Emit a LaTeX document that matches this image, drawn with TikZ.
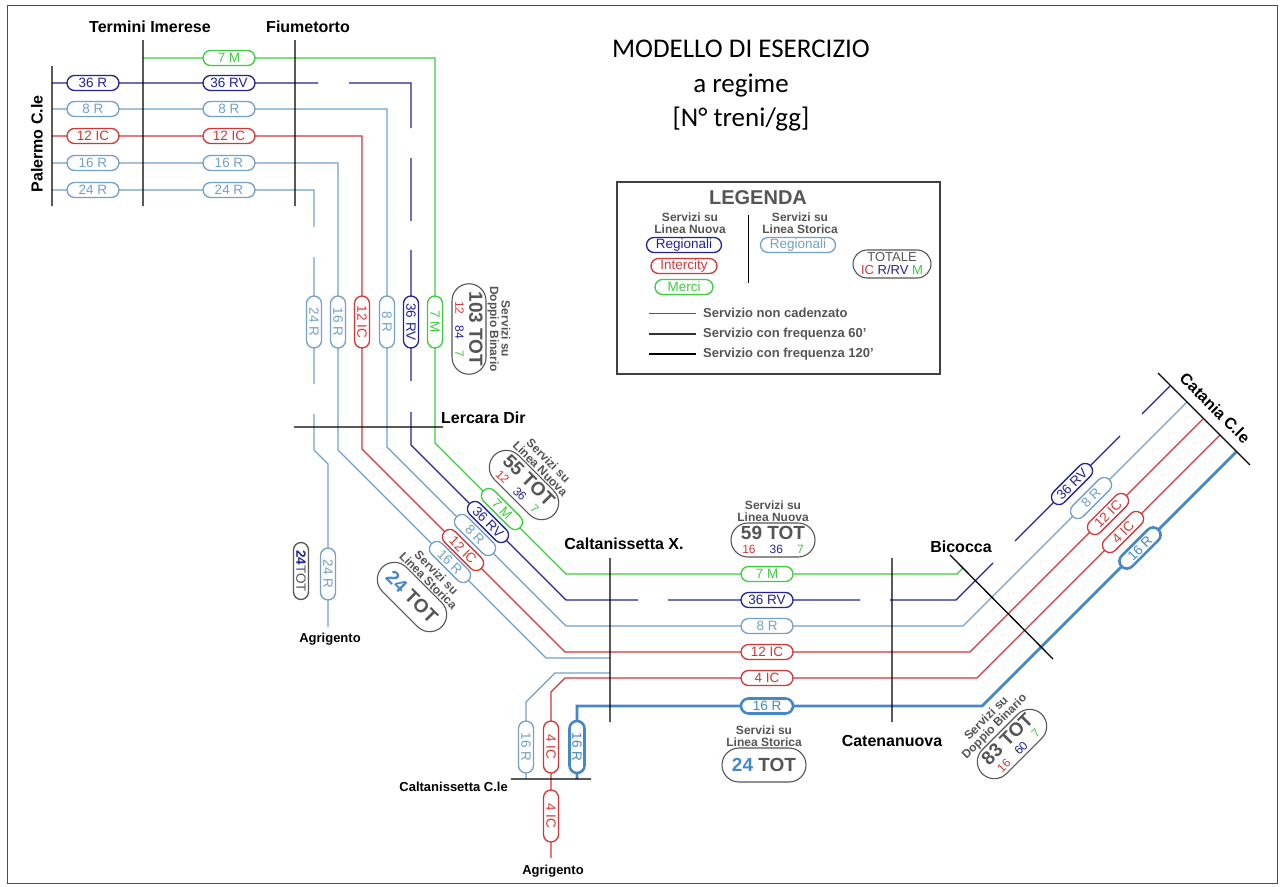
\documentclass[tikz,border=0pt]{standalone}
\usepackage{fontspec}
\setmainfont{Liberation Sans}
\newfontfamily\titlefont{Carlito}
\usetikzlibrary{shapes.misc}
\definecolor{cgreen}{RGB}{60,205,60}
\definecolor{cnavy}{RGB}{35,35,150}
\definecolor{clblue}{RGB}{115,160,200}
\definecolor{ctblue}{RGB}{70,135,200}
\definecolor{cred}{RGB}{210,55,55}
\definecolor{cgray}{RGB}{85,85,85}
\newcommand\tbig{\fontsize{19}{19}\selectfont\bfseries}
\newcommand\tsm{\fontsize{12}{12}\selectfont}
\tikzset{
  ln/.style={line width=1.3pt},
  thk/.style={line width=2.8pt},
  stn/.style={line width=1.3pt, black},
  pill/.style={rounded rectangle, draw=#1, text=#1, fill=white, line width=1.3pt,
    minimum width=52pt, minimum height=15pt, inner sep=0pt, font=\fontsize{13.5}{13.5}\selectfont},
  tpill/.style={pill=#1, line width=2.6pt},
  stl/.style={font=\fontsize{16}{18}\selectfont\bfseries, inner sep=0pt},
  sts/.style={font=\fontsize{13}{15}\selectfont\bfseries, inner sep=0pt},
  totbox/.style={rounded rectangle, draw=cgray, fill=white, line width=1.1pt, minimum width=86pt,
    minimum height=34pt, inner sep=1pt, align=center, text=cgray, font=\fontsize{12}{14}\selectfont},
  head/.style={font=\fontsize{12}{11.5}\selectfont\bfseries, text=cgray, align=center, inner sep=1pt},
  legtxt/.style={font=\fontsize{13}{15}\selectfont\bfseries, text=cgray, anchor=west, inner sep=0pt},
}
\begin{document}
\begin{tikzpicture}[x=1pt,y=-1pt]
\useasboundingbox (0,0) rectangle (1281,886);
\fill[white] (0,0) rectangle (1281,886);
\draw[line width=1pt, black!70] (7,5) rectangle (1277,883);

% ---- title
\node[font=\titlefont\fontsize{27}{27}\selectfont] (t1) at (741,49) {MODELLO DI ESERCIZIO};
\node[font=\titlefont\fontsize{27}{27}\selectfont] (t2) at (741,86) {a regime};
\node[font=\titlefont\fontsize{27}{27}\selectfont] (t3) at (741,119) {[N° treni/gg]};

% ---- coordinates
% 7 M
\coordinate (m0) at (143,58); \coordinate (m1) at (435,58); \coordinate (m2) at (435,443);
\coordinate (m3) at (566,574); \coordinate (m4) at (957,574); \coordinate (m5) at (963,568);
% 36 RV
\coordinate (v0) at (52,83); \coordinate (v1) at (318,83); \coordinate (v2) at (349,83);
\coordinate (v3) at (411,83); \coordinate (v4) at (411,128); \coordinate (v5) at (411,158);
\coordinate (v6) at (411,221); \coordinate (v7) at (411,250); \coordinate (v8) at (411,381);
\coordinate (v9) at (411,412); \coordinate (v10) at (411,445); \coordinate (v11) at (566,600);
\coordinate (v12) at (638,600); \coordinate (v13) at (668,600); \coordinate (v14) at (860,600);
\coordinate (v15) at (890,600); \coordinate (v16) at (956,600); \coordinate (v17) at (993,563);
\coordinate (v18) at (1015,541); \coordinate (v19) at (1120,436); \coordinate (v20) at (1142,414);
\coordinate (v21) at (1170,386);
% 8 R
\coordinate (e0) at (52,109); \coordinate (e1) at (387,109); \coordinate (e2) at (387,447);
\coordinate (e3) at (566,626); \coordinate (e4) at (963,626); \coordinate (e5) at (1187,402);
% 12 IC
\coordinate (r0) at (52,136); \coordinate (r1) at (362,136); \coordinate (r2) at (362,449);
\coordinate (r3) at (565,652); \coordinate (r4) at (970,652); \coordinate (r5) at (1203,419);
% 16 R
\coordinate (s0) at (52,163); \coordinate (s1) at (338,163); \coordinate (s2) at (338,450);
\coordinate (s3) at (546,658); \coordinate (s4) at (610,658);
\coordinate (s5) at (610,673); \coordinate (s6) at (555,673); \coordinate (s7) at (526,702);
\coordinate (s8) at (526,779);
% 24 R
\coordinate (q0) at (52,190); \coordinate (q1) at (314,190); \coordinate (q2) at (314,227);
\coordinate (q3) at (314,257); \coordinate (q4) at (314,384); \coordinate (q5) at (314,414);
\coordinate (q6) at (314,450); \coordinate (q7) at (328,464); \coordinate (q8) at (328,627);
% 4 IC
\coordinate (f0) at (1220,435); \coordinate (f1) at (977,678); \coordinate (f2) at (565,678);
\coordinate (f3) at (551,692); \coordinate (f4) at (551,858);
% 16 R thick
\coordinate (k0) at (1236,452); \coordinate (k1) at (982,706); \coordinate (k2) at (577,706);
\coordinate (k3) at (577,779);

% ---- service lines
\draw[ln,cgreen] (m0)--(m1)--(m2)--(m3)--(m4)--(m5);
\draw[ln,cnavy] (v0)--(v1) (v2)--(v3)--(v4) (v5)--(v6) (v7)--(v8) (v9)--(v10)--(v11)--(v12)
  (v13)--(v14) (v15)--(v16)--(v17) (v18)--(v19) (v20)--(v21);
\draw[ln,clblue] (e0)--(e1)--(e2)--(e3)--(e4)--(e5);
\draw[ln,cred] (r0)--(r1)--(r2)--(r3)--(r4)--(r5);
\draw[ln,clblue] (s0)--(s1)--(s2)--(s3)--(s4) (s5)--(s6)--(s7)--(s8);
\draw[ln,clblue] (q0)--(q1)--(q2) (q3)--(q4) (q5)--(q6)--(q7)--(q8);
\draw[ln,cred] (f0)--(f1)--(f2)--(f3)--(f4);
\draw[thk,ctblue] (k0)--(k1)--(k2)--(k3);

% ---- station lines
\coordinate (pa1) at (52,66); \coordinate (pa2) at (52,206);
\coordinate (te1) at (143,40); \coordinate (te2) at (143,206);
\coordinate (fi1) at (295,40); \coordinate (fi2) at (295,206);
\coordinate (le1) at (294,427); \coordinate (le2) at (443,427);
\coordinate (cx1) at (610,558); \coordinate (cx2) at (610,722);
\coordinate (cn1) at (892,558); \coordinate (cn2) at (892,722);
\coordinate (bi1) at (950,555); \coordinate (bi2) at (1053,659);
\coordinate (ca1) at (1158,373); \coordinate (ca2) at (1250,465);
\coordinate (cc1) at (511,779); \coordinate (cc2) at (591,779);
\draw[stn] (pa1)--(pa2) (te1)--(te2) (fi1)--(fi2) (le1)--(le2) (cx1)--(cx2) (cn1)--(cn2)
  (bi1)--(bi2) (ca1)--(ca2) (cc1)--(cc2);

% ---- station labels
\node[stl] (lte) at (150,27) {Termini Imerese};
\node[stl] (lfi) at (308,27) {Fiumetorto};
\node[stl, rotate=90] (lpa) at (37,144) {Palermo C.le};
\node[stl, anchor=west] (lle) at (441,418) {Lercara Dir};
\node[stl] (lcx) at (624,544) {Caltanissetta X.};
\node[stl] (lcn) at (892,741) {Catenanuova};
\node[stl] (lbi) at (961,547) {Bicocca};
\node[stl, rotate=-45] (lca) at (1215,408) {Catania C.le};
\node[sts, anchor=east] (lcc) at (508,787) {Caltanissetta C.le};
\node[sts] (lag1) at (330,639) {Agrigento};
\node[sts] (lag2) at (553,871) {Agrigento};

% ---- pills: top horizontal
\node[pill=cgreen] (p7a) at (229,58) {7 M};
\node[pill=cnavy] (p36a) at (93,83) {36 R};
\node[pill=cnavy] (p36b) at (229,83) {36 RV};
\node[pill=clblue] (p8a) at (93,109) {8 R};
\node[pill=clblue] (p8b) at (229,109) {8 R};
\node[pill=cred] (p12a) at (93,136) {12 IC};
\node[pill=cred] (p12b) at (229,136) {12 IC};
\node[pill=clblue] (p16a) at (93,163) {16 R};
\node[pill=clblue] (p16b) at (229,163) {16 R};
\node[pill=clblue] (p24a) at (93,190) {24 R};
\node[pill=clblue] (p24b) at (229,190) {24 R};
% vertical
\node[pill=clblue, rotate=-90] (p24c) at (314,322) {24 R};
\node[pill=clblue, rotate=-90] (p16c) at (338,322) {16 R};
\node[pill=cred, rotate=-90] (p12c) at (362,322) {12 IC};
\node[pill=clblue, rotate=-90] (p8c) at (387,322) {8 R};
\node[pill=cnavy, rotate=-90] (p36c) at (411,322) {36 RV};
\node[pill=cgreen, rotate=-90] (p7c) at (435,322) {7 M};
% left diagonal
\node[pill=cgreen, rotate=-45] (p7d) at (502,509) {7 M};
\node[pill=cnavy, rotate=-45] (p36d) at (488,522) {36 RV};
\node[pill=clblue, rotate=-45] (p8d) at (475,535) {8 R};
\node[pill=cred, rotate=-45] (p12d) at (463,550) {12 IC};
\node[pill=clblue, rotate=-45] (p16d) at (450,562) {16 R};
% centre horizontal
\node[pill=cgreen] (p7e) at (767,574) {7 M};
\node[pill=cnavy] (p36e) at (767,600) {36 RV};
\node[pill=clblue] (p8e) at (767,626) {8 R};
\node[pill=cred] (p12e) at (767,652) {12 IC};
\node[pill=cred] (p4e) at (767,678) {4 IC};
\node[tpill=ctblue] (p16e) at (767,706) {16 R};
% right diagonal
\node[pill=cnavy, rotate=45] (p36f) at (1072,484) {36 RV};
\node[pill=clblue, rotate=45] (p8f) at (1091,498) {8 R};
\node[pill=cred, rotate=45] (p12f) at (1108,514) {12 IC};
\node[pill=cred, rotate=45] (p4f) at (1123,532) {4 IC};
\node[tpill=ctblue, rotate=45] (p16f) at (1140,548) {16 R};
% lower vertical
\node[pill=clblue, rotate=-90] (p24g) at (328,574) {24 R};
\node[pill=cgray, rotate=-90, minimum width=57pt] (p24t) at (301,571) {{\bfseries\color{cnavy}24}TOT};
\node[pill=clblue, rotate=-90] (p16g) at (526,747) {16 R};
\node[pill=cred, rotate=-90] (p4g) at (551,747) {4 IC};
\node[tpill=ctblue, rotate=-90] (p16h) at (577,747) {16 R};
\node[pill=cred, rotate=-90] (p4h) at (551,816) {4 IC};

% ---- total boxes
\node[totbox, rotate=-90] (b103) at (469,329) {{\tbig 103 TOT}\\[0pt]{\tsm\color{cred}12\hspace{11pt}\color{cnavy}84\hspace{11pt}\color{cgreen}7}};
\node[head, rotate=-90, anchor=south] (h103) at (b103.north) {Servizi su\\Doppio Binario};

\node[totbox, rotate=-45] (b55) at (524,485) {{\tbig 55 TOT}\\[0pt]{\tsm\color{cred}12\hspace{11pt}\color{cnavy}36\hspace{11pt}\color{cgreen}7}};
\node[head, rotate=-45, anchor=south] (h55) at (b55.north) {Servizi su\\Linea Nuova};

\node[totbox, rotate=-45] (b24a) at (412,597) {\tbig{\color{ctblue}24} TOT};
\node[head, rotate=-45, anchor=south] (h24a) at (b24a.north) {Servizi su\\Linea Storica};

\node[totbox] (b59) at (773,540) {{\tbig 59 TOT}\\[0pt]{\tsm\color{cred}16\hspace{14pt}\color{cnavy}36\hspace{14pt}\color{cgreen}7}};
\node[head, anchor=south] (h59) at (b59.north) {Servizi su\\Linea Nuova};

\node[totbox] (b24b) at (764,765) {\tbig{\color{ctblue}24} TOT};
\node[head, anchor=south] (h24b) at (b24b.north) {Servizi su\\Linea Storica};

\node[totbox, rotate=45] (b83) at (1012,744) {{\tbig 83 TOT}\\[0pt]{\tsm\color{cred}16\hspace{11pt}\color{cnavy}60\hspace{11pt}\color{cgreen}7}};
\node[head, rotate=45, anchor=south] (h83) at (b83.north) {Servizi su\\Doppio Binario};

% ---- legend
\draw[line width=1.2pt, black!75] (617,182) rectangle (940,374);
\node[font=\fontsize{20}{20}\selectfont\bfseries, text=cgray] (leg) at (758,198) {LEGENDA};
\node[head] (lhn) at (690,223) {Servizi su\\Linea Nuova};
\node[head] (lhs) at (800,223) {Servizi su\\Linea Storica};
\coordinate (ld1) at (748,215); \coordinate (ld2) at (748,283);
\draw[line width=1pt] (ld1)--(ld2);
\node[pill=cnavy, minimum width=75pt] (lr1) at (684,245) {Regionali};
\node[pill=cred, minimum width=66pt] (li1) at (684,266) {Intercity};
\node[pill=cgreen, minimum width=58pt] (lm1) at (684,287) {Merci};
\node[pill=clblue, minimum width=75pt] (lr2) at (798,245) {Regionali};
\node[rounded rectangle, draw=cgray, line width=1.1pt, minimum width=80pt, minimum height=28pt,
  inner sep=1pt, align=center, font=\fontsize{13}{13}\selectfont] (ltot) at (892,264)
  {\color{cgray}TOTALE\\[0pt]{\color{cred}IC} {\color{cnavy}R/RV} {\color{cgreen}M}};
\coordinate (la1) at (649,313); \coordinate (la2) at (696,313);
\coordinate (lb1) at (649,334); \coordinate (lb2) at (696,334);
\coordinate (lc1) at (649,354); \coordinate (lc2) at (696,354);
\draw[line width=0.9pt, black!65] (la1)--(la2);
\draw[line width=1.7pt, black!80] (lb1)--(lb2);
\draw[line width=2.8pt, black] (lc1)--(lc2);
\node[legtxt] (lta) at (703,313) {Servizio non cadenzato};
\node[legtxt] (ltb) at (703,334) {Servizio con frequenza 60'};
\node[legtxt] (ltc) at (703,354) {Servizio con frequenza 120'};
\end{tikzpicture}
\end{document}
